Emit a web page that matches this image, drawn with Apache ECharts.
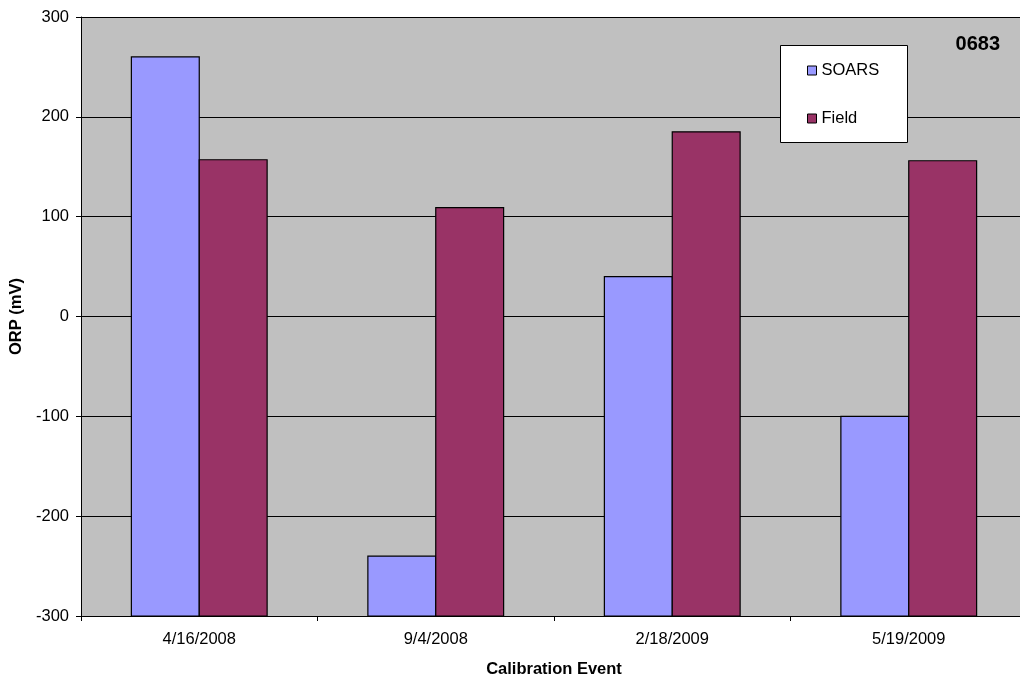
<!DOCTYPE html>
<html>
<head>
<meta charset="utf-8">
<script src="https://cdn.jsdelivr.net/npm/echarts@6/dist/echarts.min.js"></script>
<style>
  html, body { margin: 0; padding: 0; background: #fff; }
  #chart { width: 1020px; height: 679px; }
</style>
</head>
<body>
<div id="chart"></div>
<script>
// Calibration events (x categories)
const categories = ['4/16/2008', '9/4/2008', '2/18/2009', '5/19/2009'];
// ORP readings in mV
const soarsValues = [260, -240, 40, -100];
const fieldValues = [157, 109, 185, 156];
// Value axis range
const yMin = -300;
const yMax = 300;
const yStep = 100;

const FONT = '"Liberation Sans", Arial, sans-serif';

// Bars rise from the bottom of the axis (Excel style), so each one is
// drawn as a rectangle between yMin and its value in data coordinates.
function barRenderer(side) {
  return function (params, api) {
    const ci = api.value(0);
    const v = api.value(1);
    const top = api.coord([ci, v]);
    const base = api.coord([ci, yMin]);
    const band = api.size([1, 0])[0];
    const w = band * 0.287;
    const x = top[0] + (side === 0 ? -w : 0);
    return {
      type: 'rect',
      shape: { x: x, y: top[1], width: w, height: base[1] - top[1] },
      style: api.style({ stroke: '#000', lineWidth: 1.2 })
    };
  };
}

const chart = echarts.init(document.getElementById('chart'), null, { renderer: 'canvas' });

chart.setOption({
  animation: false,
  backgroundColor: '#ffffff',
  grid: { left: 81, right: -7, top: 17, bottom: 63, containLabel: false,
          outerBoundsMode: 'none',
          show: true, backgroundColor: '#C0C0C0', borderWidth: 0 },
  graphic: [
    { type: 'rect', left: 780, top: 45, z: 10,
      shape: { width: 127, height: 97 },
      style: { fill: '#ffffff', stroke: '#000', lineWidth: 1 } },
    { type: 'text', right: 20, top: 34, z: 10,
      style: { text: '0683', font: 'bold 20px ' + FONT, fill: '#000' } }
  ],
  legend: {
    orient: 'vertical', left: 807, top: 62, z: 20, padding: 0,
    itemWidth: 9, itemHeight: 9, itemGap: 31, icon: 'rect',
    textStyle: { fontFamily: FONT, fontSize: 16.5, color: '#000' },
    itemStyle: { borderColor: '#000', borderWidth: 1 },
    data: ['SOARS', 'Field']
  },
  xAxis: {
    type: 'category',
    data: categories,
    name: 'Calibration Event',
    nameLocation: 'middle',
    nameGap: 45,
    nameTextStyle: { fontFamily: FONT, fontSize: 16.5, fontWeight: 'bold', color: '#000' },
    axisLine: { onZero: false, lineStyle: { color: '#000', width: 1 } },
    axisTick: { show: true, alignWithLabel: false, length: 5, lineStyle: { color: '#000' } },
    axisLabel: { fontFamily: FONT, fontSize: 16.5, color: '#000', margin: 15 },
    splitLine: { show: false }
  },
  yAxis: {
    type: 'value',
    min: yMin, max: yMax, interval: yStep,
    name: 'ORP (mV)',
    nameLocation: 'middle',
    nameGap: 52,
    nameTextStyle: { fontFamily: FONT, fontSize: 16.5, fontWeight: 'bold', color: '#000' },
    axisLine: { show: true, lineStyle: { color: '#000', width: 1 } },
    axisTick: { show: true, length: 5, lineStyle: { color: '#000' } },
    axisLabel: { fontFamily: FONT, fontSize: 16.5, color: '#000', margin: 12 },
    splitLine: { show: true, lineStyle: { color: '#000', width: 1 } }
  },
  series: [
    { name: 'SOARS', type: 'custom', renderItem: barRenderer(0),
      itemStyle: { color: '#9999FF', borderColor: '#000', borderWidth: 1 },
      encode: { x: 0, y: 1 },
      data: soarsValues.map((v, i) => [i, v]) },
    { name: 'Field', type: 'custom', renderItem: barRenderer(1),
      itemStyle: { color: '#993366', borderColor: '#000', borderWidth: 1 },
      encode: { x: 0, y: 1 },
      data: fieldValues.map((v, i) => [i, v]) }
  ]
});
</script>
</body>
</html>
